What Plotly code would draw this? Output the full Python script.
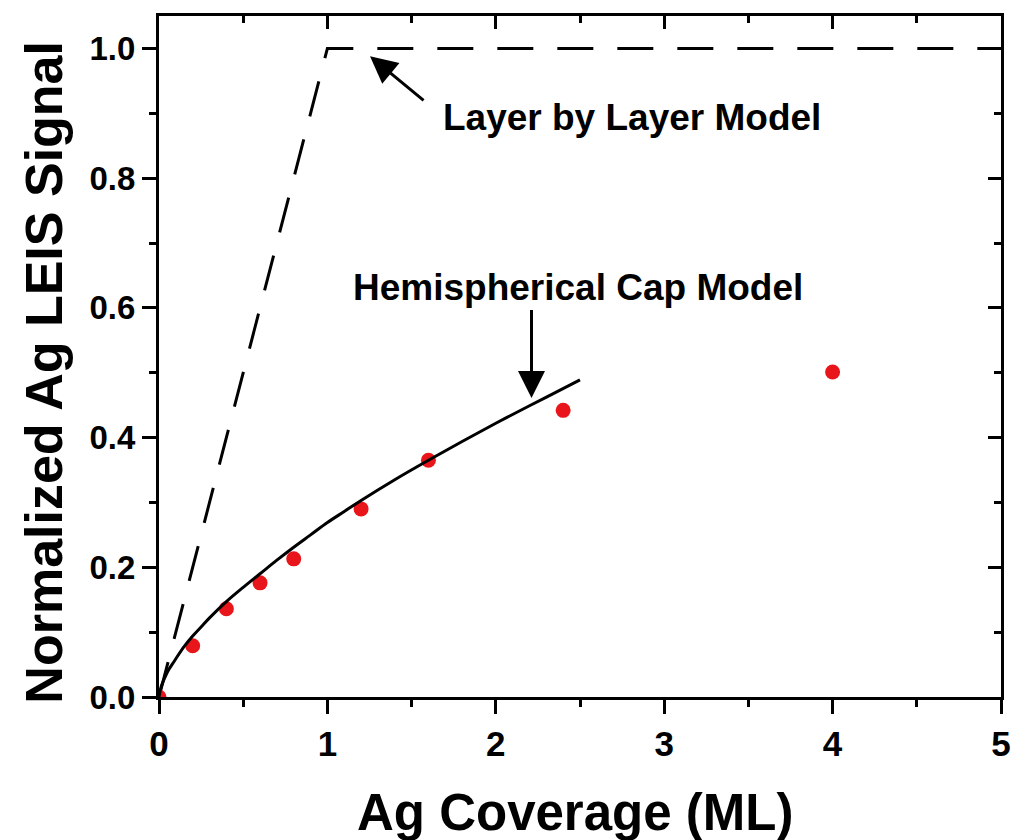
import plotly.graph_objects as go

# Measured Ag LEIS signal vs. Ag coverage
coverage = [0.0, 0.2, 0.4, 0.6, 0.8, 1.2, 1.6, 2.4, 4.0]
signal = [0.0, 0.079, 0.136, 0.176, 0.213, 0.290, 0.365, 0.442, 0.501]

# Hemispherical cap model curve
cap_x = [0.0, 0.01, 0.02, 0.04, 0.06, 0.08, 0.1, 0.15, 0.2, 0.25, 0.3, 0.4, 0.5, 0.6,
         0.7, 0.8, 0.9, 1.0, 1.1, 1.2, 1.4, 1.6, 1.8, 2.0, 2.2, 2.35, 2.5]
cap_y = [0.0, 0.013, 0.021, 0.033, 0.043, 0.051, 0.059, 0.078, 0.094, 0.108, 0.122,
         0.147, 0.169, 0.19, 0.211, 0.231, 0.25, 0.269, 0.286, 0.303, 0.335, 0.365,
         0.394, 0.422, 0.449, 0.469, 0.489]

# Layer-by-layer model
layer_x = [0.0, 1.0, 5.0]
layer_y = [0.0, 1.0, 1.0]

x_ticks = [0, 1, 2, 3, 4, 5]
y_ticks = [0.0, 0.2, 0.4, 0.6, 0.8, 1.0]

FONT = "Liberation Sans, Arial, Helvetica, sans-serif"

fig = go.Figure()

fig.add_trace(go.Scatter(
    x=layer_x, y=layer_y, mode="lines",
    line=dict(color="black", width=3, dash="36px,24px"),
    showlegend=False, hoverinfo="skip",
))
fig.add_trace(go.Scatter(
    x=coverage, y=signal, mode="markers",
    marker=dict(color="#e8161b", size=15, line=dict(width=0)),
    showlegend=False,
))
fig.add_trace(go.Scatter(
    x=cap_x, y=cap_y, mode="lines", line_shape="spline",
    line=dict(color="black", width=3),
    showlegend=False, hoverinfo="skip",
))
# invisible trace that carries the mirrored top/right axes
fig.add_trace(go.Scatter(
    x=coverage, y=signal, xaxis="x2", yaxis="y2", mode="markers",
    marker=dict(opacity=0), showlegend=False, hoverinfo="skip",
))

axis_common = dict(
    showline=True, linewidth=3, linecolor="black",
    showgrid=False, zeroline=False, tickwidth=3, tickcolor="black",
)

fig.update_layout(
    width=1023, height=840,
    margin=dict(l=159, r=15, t=16, b=143),
    paper_bgcolor="white", plot_bgcolor="white",
    font=dict(family=FONT, color="black"),
    xaxis=dict(
        **axis_common, range=[0, 5], tickvals=x_ticks,
        ticks="outside", ticklen=14,
        minor=dict(dtick=0.5, ticks="outside", ticklen=7, tickwidth=3, tickcolor="black"),
        tickfont=dict(size=35, family=FONT, weight="bold"),
    ),
    yaxis=dict(
        **axis_common, range=[0, 1.05], tickvals=y_ticks, tickformat=".1f",
        ticks="outside", ticklen=14,
        minor=dict(dtick=0.1, ticks="outside", ticklen=7, tickwidth=3, tickcolor="black"),
        tickfont=dict(size=33, family=FONT, weight="bold"),
    ),
    xaxis2=dict(
        **axis_common, range=[0, 5], tickvals=x_ticks, overlaying="x", side="top",
        anchor="y2", ticks="inside", ticklen=13, showticklabels=False,
        minor=dict(dtick=0.5, ticks="inside", ticklen=7, tickwidth=3, tickcolor="black"),
    ),
    yaxis2=dict(
        **axis_common, range=[0, 1.05], tickvals=y_ticks, overlaying="y", side="right",
        anchor="x2", ticks="inside", ticklen=13, showticklabels=False,
        minor=dict(dtick=0.1, ticks="inside", ticklen=7, tickwidth=3, tickcolor="black"),
    ),
)

# Axis titles
fig.add_annotation(
    text="Ag Coverage (ML)", xref="paper", yref="paper", x=0.4935, y=-0.169,
    xanchor="center", yanchor="middle", showarrow=False,
    font=dict(size=51, family=FONT, weight="bold"),
)
fig.add_annotation(
    text="Normalized Ag LEIS Signal", xref="paper", yref="paper", x=-0.136, y=0.477,
    xanchor="center", yanchor="middle", showarrow=False, textangle=-90,
    font=dict(size=52, family=FONT, weight="bold"),
)

# Model labels with arrows
fig.add_annotation(
    text="Layer by Layer Model", x=2.81, y=0.894, xref="x", yref="y",
    showarrow=False, xanchor="center", yanchor="middle",
    font=dict(size=37, family=FONT, weight="bold"),
)
fig.add_annotation(
    text="", x=1.253, y=0.988, ax=1.58, ay=0.918, xref="x", yref="y",
    axref="x", ayref="y", showarrow=True, arrowhead=2, arrowsize=1.8,
    arrowwidth=3, arrowcolor="black",
)
fig.add_annotation(
    text="Hemispherical Cap Model", x=2.49, y=0.632, xref="x", yref="y",
    showarrow=False, xanchor="center", yanchor="middle",
    font=dict(size=37, family=FONT, weight="bold"),
)
fig.add_annotation(
    text="", x=2.212, y=0.461, ax=2.212, ay=0.599, xref="x", yref="y",
    axref="x", ayref="y", showarrow=True, arrowhead=2, arrowsize=1.8,
    arrowwidth=3, arrowcolor="black",
)

fig.write_html("out.html")
